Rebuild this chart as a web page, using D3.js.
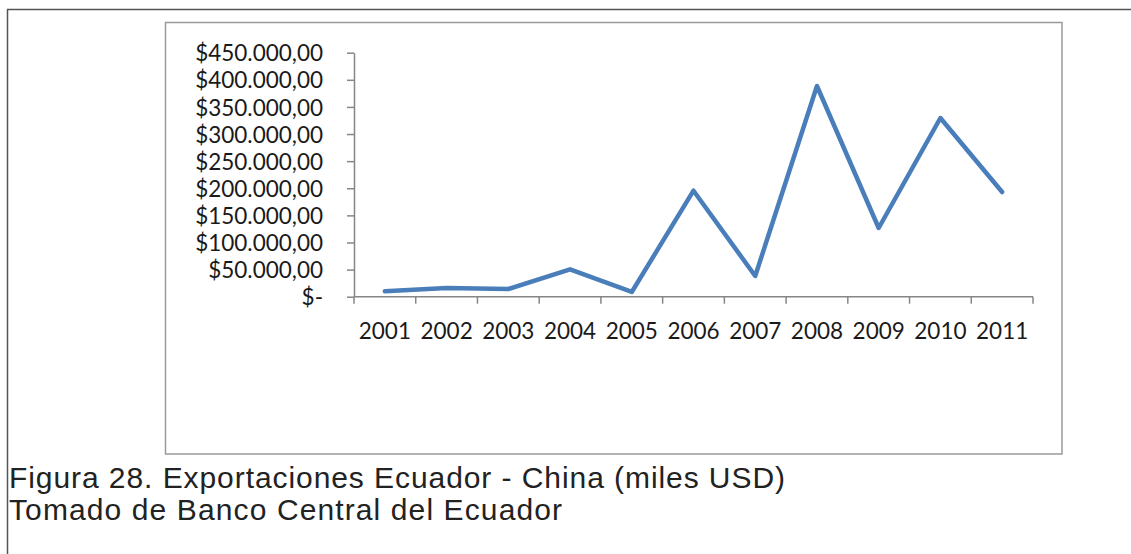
<!DOCTYPE html>
<html>
<head>
<meta charset="utf-8">
<script src="https://cdn.jsdelivr.net/npm/d3@7"></script>
<style>
  body { margin: 0; background: #fff; }
  svg { display: block; }
  .axis path, .axis line { stroke: #868686; stroke-width: 1.5; }
  .axis text { font-family: Lato, "Open Sans", sans-serif; font-size: 22.5px; fill: #1a1a1a; }
  .caption { font-family: "Liberation Sans", Arial, sans-serif; font-size: 30px; fill: #222; }
</style>
</head>
<body>
<script>
// Exportaciones Ecuador - China (miles USD)
var years = ["2001", "2002", "2003", "2004", "2005", "2006", "2007", "2008", "2009", "2010", "2011"];
var exportsUSD = [10000, 16000, 14200, 50500, 8700, 195500, 38200, 388600, 126700, 329600, 193100];
var yTicks = [0, 50000, 100000, 150000, 200000, 250000, 300000, 350000, 400000, 450000];
var captionLines = ["Figura 28. Exportaciones Ecuador - China (miles USD)", "Tomado de Banco Central del Ecuador"];

var W = 1131, H = 554;
var plot = {left: 354, right: 1033, top: 52.7, bottom: 296.7};

var svg = d3.select("body").append("svg")
  .attr("width", W)
  .attr("height", H);

// outer page frame (top + left edges only)
svg.append("path")
  .attr("d", "M7.5," + H + "V9.5H" + W)
  .attr("fill", "none")
  .attr("stroke", "#555")
  .attr("stroke-width", 1.5);

// chart box
svg.append("rect")
  .attr("x", 165.5).attr("y", 22.5)
  .attr("width", 1062 - 165.5).attr("height", 454 - 22.5)
  .attr("fill", "#fff")
  .attr("stroke", "#9a9a9a")
  .attr("stroke-width", 1.5);

var x = d3.scaleBand().domain(years).range([plot.left, plot.right]).padding(0);
var y = d3.scaleLinear().domain([0, 450000]).range([plot.bottom, plot.top]);

var locale = d3.formatLocale({decimal: ",", thousands: ".", grouping: [3], currency: ["$", ""]});
var money = locale.format("$,.2f");

// y axis
var yAxis = svg.append("g")
  .attr("class", "axis")
  .attr("transform", "translate(" + plot.left + ",0)")
  .call(d3.axisLeft(y).tickValues(yTicks).tickSize(7).tickPadding(24).tickSizeOuter(0)
    .tickFormat(function(d) { return d === 0 ? "$-" : money(d); }));
yAxis.selectAll("text").attr("dy", "0.36em");

// x axis: ticks at category boundaries
var xg = svg.append("g")
  .attr("class", "axis")
  .attr("transform", "translate(0," + plot.bottom + ")");
xg.append("line")
  .attr("x1", plot.left).attr("x2", plot.right)
  .attr("y1", 0).attr("y2", 0);
var bounds = years.map(function(d) { return x(d); }).concat([plot.right]);
xg.selectAll(".tk").data(bounds).enter().append("line")
  .attr("class", "tk")
  .attr("x1", function(d) { return d; }).attr("x2", function(d) { return d; })
  .attr("y1", 0).attr("y2", 7);
xg.selectAll(".lbl").data(years).enter().append("text")
  .attr("class", "lbl")
  .attr("x", function(d) { return x(d) + x.bandwidth() / 2; })
  .attr("y", 42)
  .attr("text-anchor", "middle")
  .text(function(d) { return d; });

// the series line
var line = d3.line()
  .x(function(d, i) { return x(years[i]) + x.bandwidth() / 2; })
  .y(function(d) { return y(d); });

svg.append("path")
  .datum(exportsUSD)
  .attr("d", line)
  .attr("fill", "none")
  .attr("stroke", "#4a7ebb")
  .attr("stroke-width", 4.5)
  .attr("stroke-linejoin", "round")
  .attr("stroke-linecap", "round");

// caption (stretched a little to the width of the original)
var captionWidths = [776, 553];
svg.selectAll(".caption").data(captionLines).enter().append("text")
  .attr("class", "caption")
  .attr("x", 9)
  .attr("y", function(d, i) { return 488 + i * 31.5; })
  .attr("textLength", function(d, i) { return captionWidths[i]; })
  .attr("lengthAdjust", "spacing")
  .text(function(d) { return d; });
</script>
</body>
</html>
